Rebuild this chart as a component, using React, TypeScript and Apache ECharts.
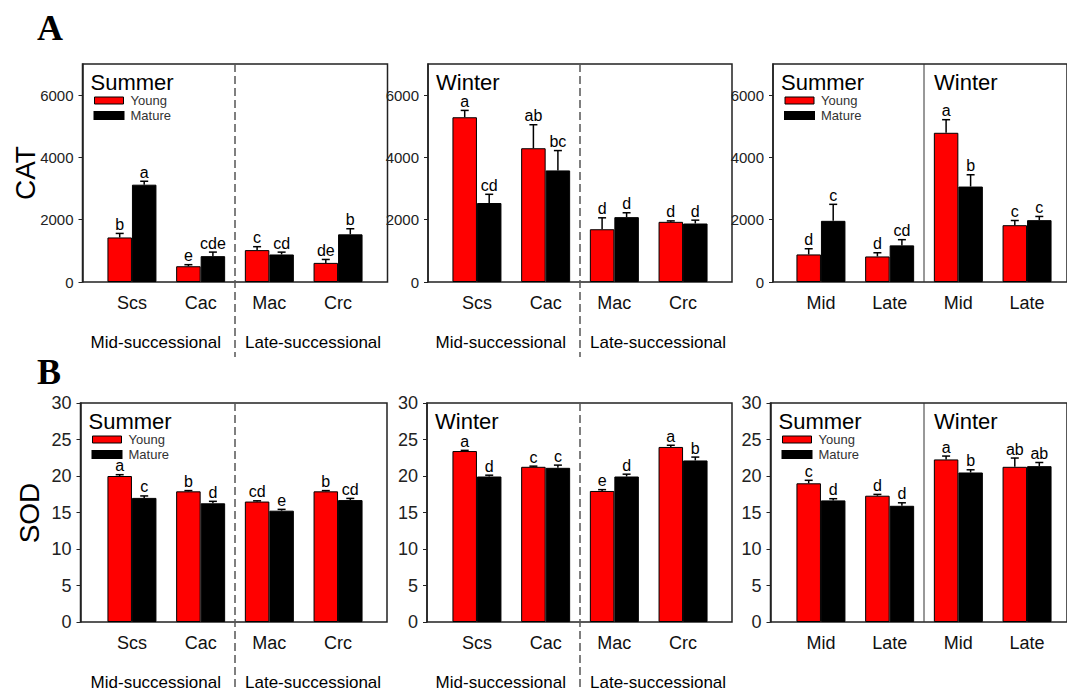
import React, { useEffect, useRef } from "react";
import * as echarts from "echarts";

// ---------- data ----------
const speciesCats = ["Scs", "Cac", "Mac", "Crc"];
const stageCats = ["Mid", "Late", "Mid", "Late"];

// CAT – Summer
const catSummerYoung = [1430, 506, 1024, 614];
const catSummerYoungErr = [130, 50, 110, 110];
const catSummerMature = [3125, 830, 884, 1530];
const catSummerMatureErr = [110, 130, 75, 180];
const catSummerYoungLet = ["b", "e", "c", "de"];
const catSummerMatureLet = ["a", "cde", "cd", "b"];

// CAT – Winter
const catWinterYoung = [5290, 4295, 1694, 1932];
const catWinterYoungErr = [220, 755, 367, 30];
const catWinterMature = [2536, 3583, 2083, 1878];
const catWinterMatureErr = [280, 637, 140, 108];
const catWinterYoungLet = ["a", "ab", "d", "d"];
const catWinterMatureLet = ["cd", "bc", "d", "d"];

// CAT – by stage and season
const catStageYoung = [885, 820, 4791, 1824];
const catStageYoungErr = [183, 119, 421, 151];
const catStageMature = [1964, 1176, 3065, 1986];
const catStageMatureErr = [530, 183, 378, 119];
const catStageYoungLet = ["d", "d", "a", "c"];
const catStageMatureLet = ["c", "cd", "b", "c"];

// SOD – Summer
const sodSummerYoung = [20.0, 17.9, 16.5, 17.9];
const sodSummerYoungErr = [0.18, 0.1, 0.1, 0.1];
const sodSummerMature = [17.0, 16.26, 15.25, 16.7];
const sodSummerMatureErr = [0.27, 0.27, 0.18, 0.23];
const sodSummerYoungLet = ["a", "b", "cd", "b"];
const sodSummerMatureLet = ["c", "d", "e", "cd"];

// SOD – Winter
const sodWinterYoung = [23.42, 21.26, 17.95, 23.98];
const sodWinterYoungErr = [0.09, 0.09, 0.18, 0.23];
const sodWinterMature = [19.93, 21.12, 19.93, 22.13];
const sodWinterMatureErr = [0.18, 0.37, 0.32, 0.46];
const sodWinterYoungLet = ["a", "c", "e", "a"];
const sodWinterMatureLet = ["d", "c", "d", "b"];

// SOD – by stage and season
const sodStageYoung = [19.0, 17.3, 22.27, 21.26];
const sodStageYoungErr = [0.41, 0.18, 0.46, 1.2];
const sodStageMature = [16.66, 15.92, 20.48, 21.35];
const sodStageMatureErr = [0.23, 0.41, 0.37, 0.5];
const sodStageYoungLet = ["c", "d", "a", "ab"];
const sodStageMatureLet = ["d", "d", "b", "ab"];

const catTicks = [0, 2000, 4000, 6000];
const sodTicks = [0, 5, 10, 15, 20, 25, 30];
const catAxis = { max: 7000, ticks: catTicks };
const sodAxis = { max: 30, ticks: sodTicks };

// ---------- layout ----------
const FONT = '"Liberation Sans", Arial, sans-serif';
const BAR_W = 24.5;
const INNER_W = 274.8;

const panels = [
  { frame: [82.5, 64, 305, 218], center: 235, cats: speciesCats, axis: catAxis, tickFont: 15, letFont: 16,
    y: catSummerYoung, ye: catSummerYoungErr, yl: catSummerYoungLet, m: catSummerMature, me: catSummerMatureErr, ml: catSummerMatureLet,
    legend: true, titles: [["Summer", 0]], divider: "dashed" },
  { frame: [428, 64, 304, 218], center: 580, cats: speciesCats, axis: catAxis, tickFont: 15, letFont: 16,
    y: catWinterYoung, ye: catWinterYoungErr, yl: catWinterYoungLet, m: catWinterMature, me: catWinterMatureErr, ml: catWinterMatureLet,
    legend: false, titles: [["Winter", 0]], divider: "dashed" },
  { frame: [773, 64, 304, 218], center: 924, cats: stageCats, axis: catAxis, tickFont: 15, letFont: 16,
    y: catStageYoung, ye: catStageYoungErr, yl: catStageYoungLet, m: catStageMature, me: catStageMatureErr, ml: catStageMatureLet,
    legend: true, titles: [["Summer", 0], ["Winter", 1]], divider: "solid" },
  { frame: [80.5, 403, 306.5, 219], center: 235, cats: speciesCats, axis: sodAxis, tickFont: 18, letFont: 16,
    y: sodSummerYoung, ye: sodSummerYoungErr, yl: sodSummerYoungLet, m: sodSummerMature, me: sodSummerMatureErr, ml: sodSummerMatureLet,
    legend: true, titles: [["Summer", 0]], divider: "dashed" },
  { frame: [427, 403, 305, 219], center: 580, cats: speciesCats, axis: sodAxis, tickFont: 18, letFont: 16,
    y: sodWinterYoung, ye: sodWinterYoungErr, yl: sodWinterYoungLet, m: sodWinterMature, me: sodWinterMatureErr, ml: sodWinterMatureLet,
    legend: false, titles: [["Winter", 0]], divider: "dashed" },
  { frame: [770.5, 403, 306, 219], center: 924, cats: stageCats, axis: sodAxis, tickFont: 18, letFont: 16,
    y: sodStageYoung, ye: sodStageYoungErr, yl: sodStageYoungLet, m: sodStageMature, me: sodStageMatureErr, ml: sodStageMatureLet,
    legend: true, titles: [["Summer", 0], ["Winter", 1]], divider: "solid" },
];

function errSeries(axisIdx: number, values: number[], errs: number[], letters: string[], side: number, letFont: number) {
  return {
    type: "custom",
    xAxisIndex: axisIdx,
    yAxisIndex: axisIdx,
    z: 5,
    silent: true,
    data: values.map((v, i) => [i, v, errs[i]]),
    renderItem: (params: any, api: any) => {
      const i = api.value(0);
      const v = api.value(1);
      const e = api.value(2);
      const base = api.coord([i, v]);
      const top = api.coord([i, v + e]);
      const x = base[0] + side * (BAR_W / 2);
      return {
        type: "group",
        children: [
          { type: "line", shape: { x1: x, y1: base[1], x2: x, y2: top[1] }, style: { stroke: "#000", lineWidth: 1.5 } },
          { type: "line", shape: { x1: x - 4, y1: top[1], x2: x + 4, y2: top[1] }, style: { stroke: "#000", lineWidth: 1.5 } },
          {
            type: "text",
            x: x,
            y: top[1] - 2.5,
            style: {
              text: letters[params.dataIndex],
              fill: "#000",
              fontSize: letFont,
              lineHeight: 13,
              fontFamily: FONT,
              align: "center",
              verticalAlign: "bottom",
            },
          },
        ],
      };
    },
  };
}

function buildOption() {
  const grid: any[] = [];
  const xAxis: any[] = [];
  const yAxis: any[] = [];
  const series: any[] = [];
  const legend: any[] = [];
  const graphic: any[] = [];

  panels.forEach((p, k) => {
    const [fl, ft, fw, fh] = p.frame;
    const outer = 2 * k;
    const inner = 2 * k + 1;
    grid.push({ left: fl, top: ft, width: fw, height: fh, show: true, borderColor: "#222", borderWidth: 1.5, backgroundColor: "transparent" });
    grid.push({ left: p.center - INNER_W / 2, top: ft, width: INNER_W, height: fh });

    xAxis.push({ gridIndex: outer, type: "value", min: 0, max: 1, show: false });
    xAxis.push({
      gridIndex: inner,
      type: "category",
      data: p.cats,
      axisLine: { show: false },
      axisTick: { show: false },
      axisLabel: { fontSize: 18, color: "#111", margin: 12, fontFamily: FONT },
    });
    const maxV = p.axis.max;
    yAxis.push({
      gridIndex: outer,
      type: "value",
      min: 0,
      max: maxV,
      axisLine: { show: true, lineStyle: { color: "#222", width: 1.5 } },
      axisTick: { show: true, length: 4, lineStyle: { color: "#222" }, customValues: p.axis.ticks },
      splitLine: { show: false },
      axisLabel: {
        fontSize: p.tickFont,
        color: "#222",
        margin: 9,
        fontFamily: FONT,
        customValues: p.axis.ticks,
        formatter: (v: number) => String(v),
      },
    });
    yAxis.push({ gridIndex: inner, type: "value", min: 0, max: maxV, show: false });

    series.push({
      type: "bar",
      name: "Young",
      xAxisIndex: inner,
      yAxisIndex: inner,
      data: p.y,
      barWidth: BAR_W,
      barGap: "0%",
      itemStyle: { color: "#ff0000", borderColor: "#000", borderWidth: 1 },
      z: 2,
    });
    series.push({
      type: "bar",
      name: "Mature",
      xAxisIndex: inner,
      yAxisIndex: inner,
      data: p.m,
      barWidth: BAR_W,
      barGap: "0%",
      itemStyle: { color: "#000", borderColor: "#000", borderWidth: 1 },
      z: 2,
    });
    series.push(errSeries(inner, p.y, p.ye, p.yl, -1, p.letFont));
    series.push(errSeries(inner, p.m, p.me, p.ml, 1, p.letFont));

    if (p.legend) {
      legend.push({
        data: [
          { name: "Young", itemStyle: { color: "#ff0000", borderColor: "#000", borderWidth: 1 } },
          { name: "Mature", itemStyle: { color: "#000" } },
        ],
        left: fl + 11,
        top: ft + 30,
        orient: "vertical",
        itemWidth: 29,
        itemHeight: 7,
        itemGap: 2,
        padding: 0,
        selectedMode: false,
        icon: "rect",
        textStyle: { fontSize: 13, lineHeight: 11, color: "#333", fontFamily: FONT, padding: [0, 0, 0, 2] },
      });
    }

    // titles
    p.titles.forEach(([t, pos]: any) => {
      const x = pos === 0 ? fl + 8 : p.center + 10;
      graphic.push({
        type: "text",
        x,
        y: ft + 18.5,
        style: { text: t, fontSize: 22, lineHeight: 20, fontFamily: FONT, fill: "#000", align: "left", verticalAlign: "middle" },
        z: 10,
      });
    });

    // dividers and group labels
    const isTop = ft < 200;
    if (p.divider === "dashed") {
      graphic.push({
        type: "line",
        shape: { x1: p.center, y1: ft, x2: p.center, y2: isTop ? 357 : 691 },
        style: { stroke: "#555", lineWidth: 1.5, lineDash: [8, 4] },
        z: 10,
      });
      const gy = isTop ? 342 : 682;
      graphic.push({
        type: "text",
        x: p.center - 14,
        y: gy,
        style: { text: "Mid-successional", fontSize: 17, fontFamily: FONT, fill: "#000", align: "right", verticalAlign: "middle" },
      });
      graphic.push({
        type: "text",
        x: p.center + 10,
        y: gy,
        style: { text: "Late-successional", fontSize: 17, fontFamily: FONT, fill: "#000", align: "left", verticalAlign: "middle" },
      });
    } else {
      graphic.push({
        type: "line",
        shape: { x1: p.center, y1: ft, x2: p.center, y2: ft + fh },
        style: { stroke: "#333", lineWidth: 1 },
        z: 10,
      });
    }
  });

  graphic.push({ type: "text", x: 37, y: 28, style: { text: "A", fontSize: 36, fontWeight: "bold", fontFamily: '"Liberation Serif", "Times New Roman", serif', fill: "#000", align: "left", verticalAlign: "middle" } });
  graphic.push({ type: "text", x: 37, y: 372, style: { text: "B", fontSize: 36, fontWeight: "bold", fontFamily: '"Liberation Serif", "Times New Roman", serif', fill: "#000", align: "left", verticalAlign: "middle" } });
  graphic.push({ type: "text", x: 25, y: 173, rotation: Math.PI / 2, style: { text: "CAT", fontSize: 28, fontFamily: FONT, fill: "#000", align: "center", verticalAlign: "middle" } });
  graphic.push({ type: "text", x: 29, y: 513, rotation: Math.PI / 2, style: { text: "SOD", fontSize: 28, fontFamily: FONT, fill: "#000", align: "center", verticalAlign: "middle" } });

  return { animation: false, backgroundColor: "#fff", grid, xAxis, yAxis, series, legend, graphic };
}

export default function App() {
  const ref = useRef<HTMLDivElement>(null);
  useEffect(() => {
    if (!ref.current) return;
    const chart = echarts.init(ref.current, null, { renderer: "svg" });
    chart.setOption(buildOption() as any);
    return () => chart.dispose();
  }, []);
  return <div ref={ref} style={{ position: "absolute", left: 0, top: 0, width: 1067, height: 691, background: "#fff" }} />;
}
